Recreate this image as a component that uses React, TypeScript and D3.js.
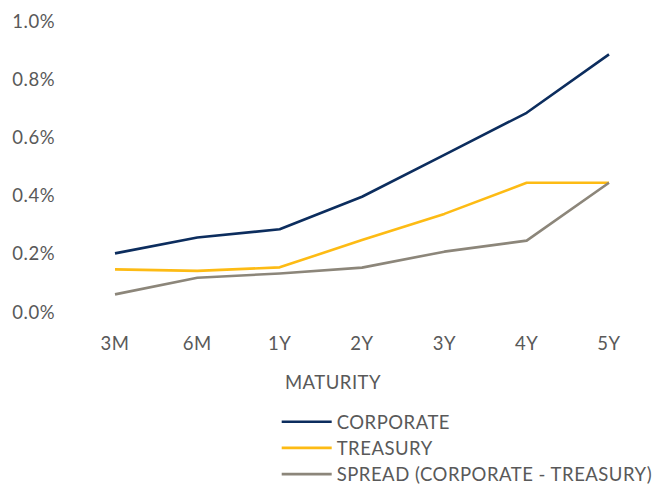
import React from "react";
import * as d3 from "d3";

const maturities = ["3M", "6M", "1Y", "2Y", "3Y", "4Y", "5Y"];
const corporate = [0.2, 0.255, 0.283, 0.395, 0.539, 0.684, 0.885];
const treasury = [0.145, 0.14, 0.152, 0.246, 0.336, 0.443, 0.443];
const spread = [0.059, 0.116, 0.131, 0.151, 0.206, 0.244, 0.443];
const yTicks = [0, 0.2, 0.4, 0.6, 0.8, 1.0];
const seriesNames = ["CORPORATE", "TREASURY", "SPREAD (CORPORATE - TREASURY)"];
const seriesColors = ["#0C2D5E", "#FDBB14", "#8C867A"];

const W = 667;
const H = 485;
const FONT = "Lato, 'Open Sans', sans-serif";
const TEXT = "#595959";
const FS = 18.5;
const LS = 0.5;

export default function App() {
  const x = d3.scalePoint<string>().domain(maturities).range([115, 609]);
  const y = d3.scaleLinear().domain([0, 1]).range([311.5, 21]);
  const line = d3
    .line<number>()
    .x((_, i) => x(maturities[i]) as number)
    .y((v) => y(v));
  const series = [corporate, treasury, spread];

  return (
    <svg
      width={W}
      height={H}
      style={{ position: "absolute", left: 0, top: 0, background: "#fff" }}
      fontFamily={FONT}
    >
      {yTicks.map((t) => (
        <text
          key={t}
          x={55}
          y={y(t)}
          textAnchor="end"
          dominantBaseline="central"
          fontSize={FS}
          letterSpacing={LS}
          fill={TEXT}
        >
          {t.toFixed(1) + "%"}
        </text>
      ))}
      {maturities.map((m) => (
        <text
          key={m}
          x={x(m)}
          y={342.5}
          textAnchor="middle"
          dominantBaseline="central"
          fontSize={FS}
          letterSpacing={LS}
          fill={TEXT}
        >
          {m}
        </text>
      ))}
      <text
        x={333}
        y={381.5}
        textAnchor="middle"
        dominantBaseline="central"
        fontSize={FS}
        letterSpacing={LS}
        fill={TEXT}
      >
        MATURITY
      </text>
      {series.map((s, i) => (
        <path
          key={i}
          d={line(s) || ""}
          fill="none"
          stroke={seriesColors[i]}
          strokeWidth={2.6}
          strokeLinejoin="round"
        />
      ))}
      {seriesNames.map((n, i) => {
        const ly = 421.7 + i * 26.2;
        return (
          <g key={n}>
            <line
              x1={281.7}
              x2={331.7}
              y1={ly}
              y2={ly}
              stroke={seriesColors[i]}
              strokeWidth={2.6}
            />
            <text
              x={336.7}
              y={ly}
              dominantBaseline="central"
              fontSize={FS}
              letterSpacing={LS}
              fill={TEXT}
            >
              {n}
            </text>
          </g>
        );
      })}
    </svg>
  );
}
